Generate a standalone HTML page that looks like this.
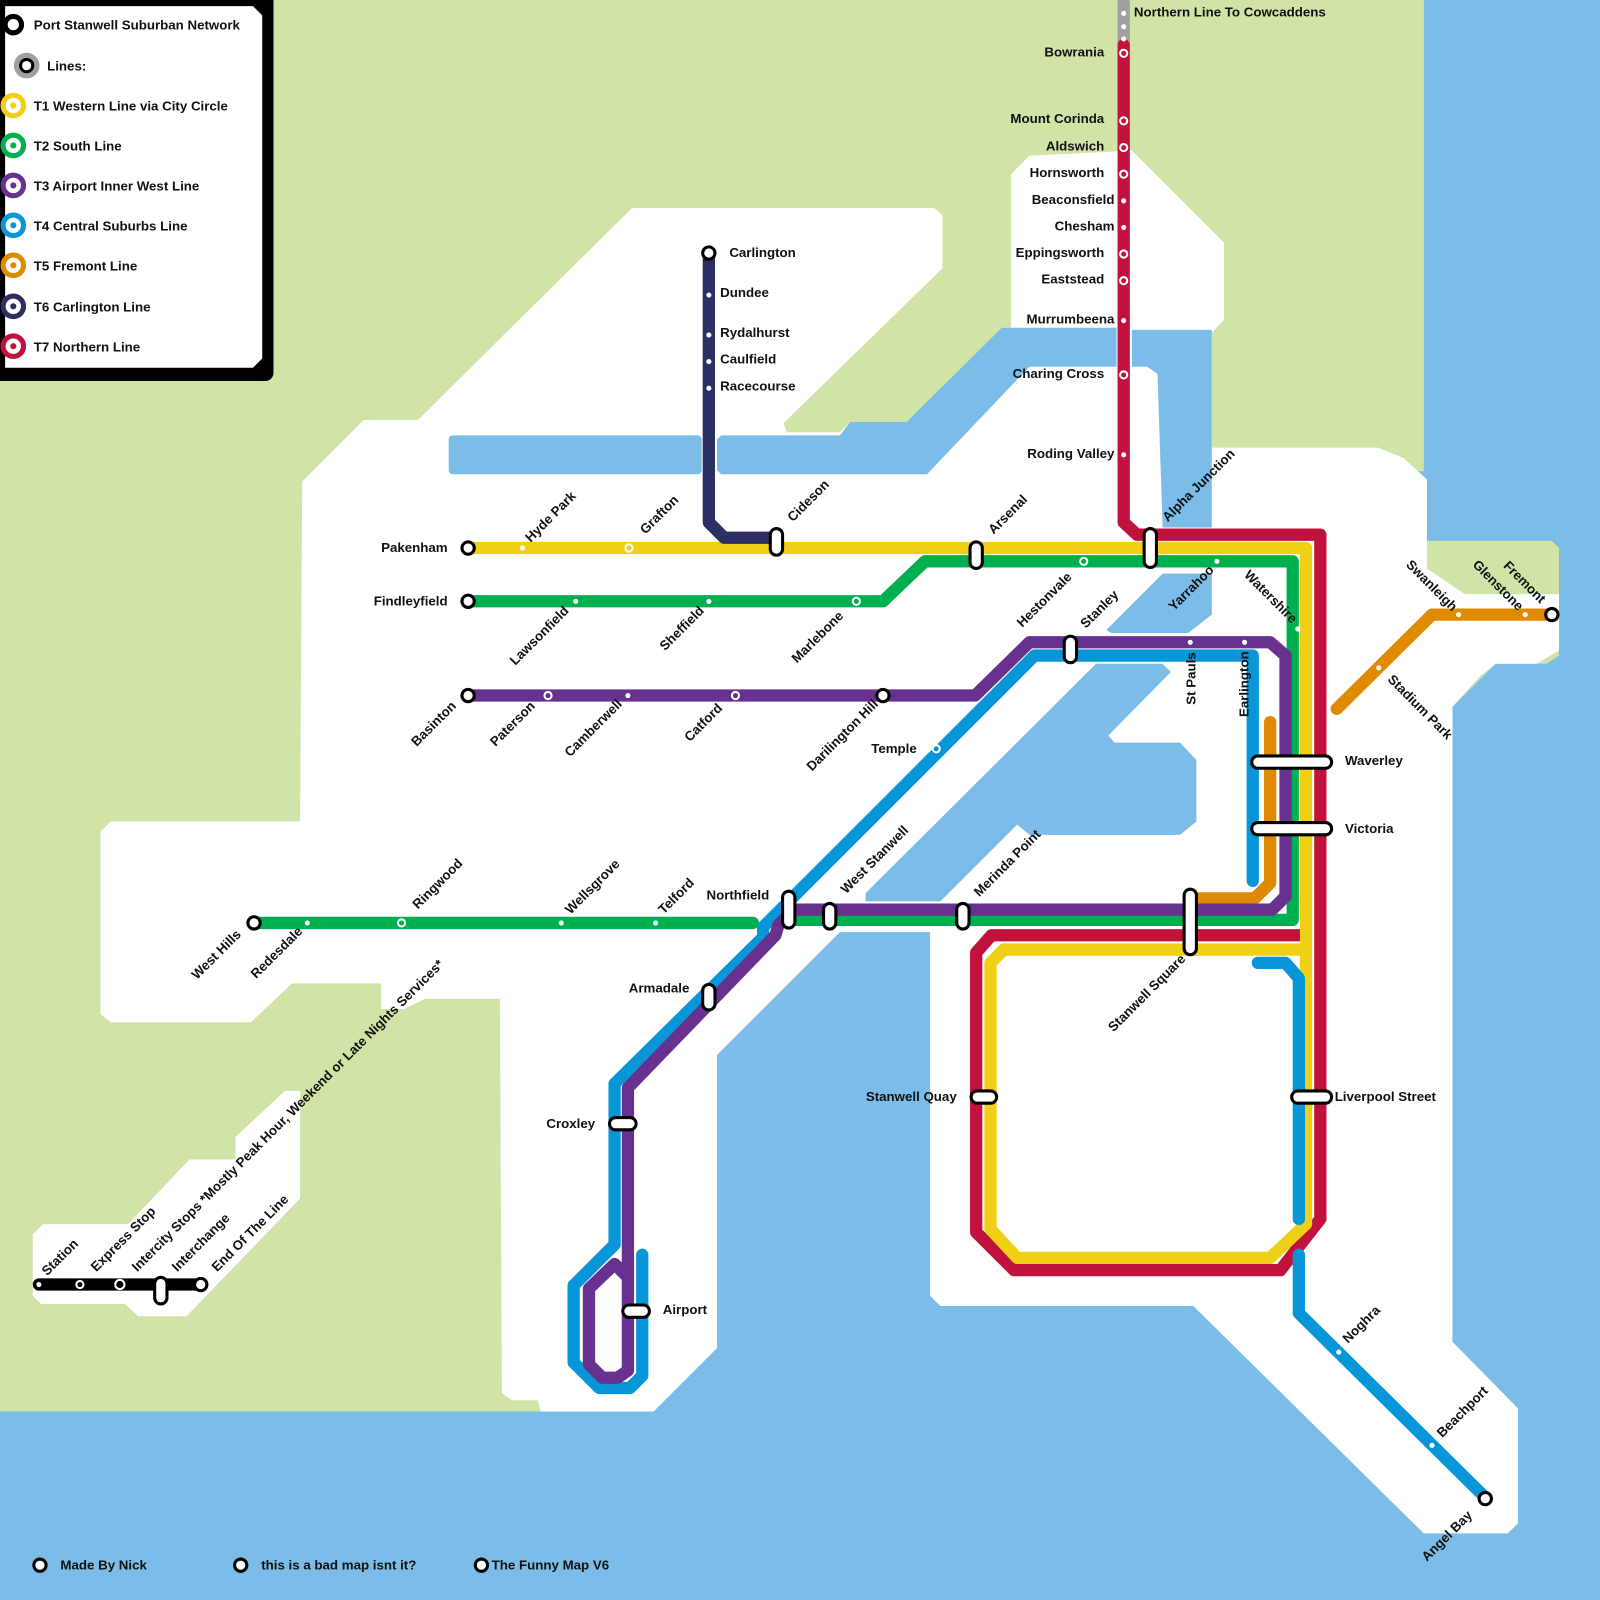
<!DOCTYPE html>
<html><head><meta charset="utf-8"><style>
html,body{margin:0;padding:0;background:#7bbde8}
svg{display:block}
text{font-family:"Liberation Sans",Arial,sans-serif;font-weight:bold;font-size:13px;fill:#111}
.ln{fill:none;stroke-width:12;stroke-linejoin:round;stroke-linecap:round}
.cap{fill:#fff;stroke:#000;stroke-width:3}
.term{fill:#fff;stroke:#000;stroke-width:3}
.dot{fill:#fff}
</style></head><body>
<svg width="1600" height="1600" viewBox="0 0 1562 1562" xmlns="http://www.w3.org/2000/svg">
<rect width="1562" height="1562" fill="#7bbde8"/>
<!-- land -->
<polygon points="0,0 1390,0 1390,460 1183,460 908,900 820,900 700,1030 700,1316 638,1378 0,1378" fill="#d0e4a8"/>
<polygon points="1390,528 1515,528 1522,535 1522,580 1390,580" fill="#d0e4a8"/>
<polygon points="1408,700 1408,680 1450,635 1510,630 1522,635 1522,640 1510,648 1460,648 1418,690 1418,720" fill="#d0e4a8"/>
<!-- white urban -->
<polygon fill="#fff" points="295,470 293,802 108,802 98,812 98,990 108,998 245,998 285,960 372,960 372,985 395,985 415,975 488,975 490,1360 500,1367 525,1367 528,1378 638,1378 700,1316 700,1030 820,910 908,910 908,1265 918,1275 1165,1275 1390,1497 1472,1497 1482,1487 1482,1375 1418,1310 1418,690 1445,660 1460,648 1500,648 1522,635 1522,580 1430,580 1393,555 1393,468 1370,447 1345,437 1183,437 1183,325 1195,312 1195,237 1105,147 1005,152 987,170 987,320 980,320 885,412 830,412 820,422 768,422 765,413 920,262 920,210 912,203 617,203 408,410 355,410"/>
<polygon fill="#fff" points="32,1205 42,1195 125,1195 185,1132 230,1132 230,1110 278,1065 293,1065 293,1170 182,1285 135,1285 122,1273 40,1273 32,1265"/>
<!-- water -->
<rect x="438" y="425" width="247" height="38" rx="4" fill="#7bbde8"/>
<polygon fill="#7bbde8" points="700,429 704,425 820,425 830,412 885,412 978,320 1090,320 1090,358 1005,358 905,463 704,463 700,459"/>
<polygon fill="#7bbde8" points="1105,322 1183,322 1183,515 1135,515 1130,365 1120,358 1105,358"/>
<polygon fill="#7bbde8" points="1080,615 1135,560 1183,560 1183,600 1160,618 1085,618"/>
<polygon fill="#7bbde8" points="1070,648 1135,648 1143,656 1082,718 1088,725 1152,725 1168,742 1168,802 1152,815 1005,815 993,805 918,880 845,880 845,872"/>
<!-- lines -->
<path class="ln" stroke="#a0a0a0" d="M1097,0 V44"/>
<path class="ln" stroke="#c0123c" d="M1097,44 V510 L1110,522 H1289 V1190 L1250,1240 H990 L953,1203 V930 L968,913 H1270"/>
<path class="ln" stroke="#f0cf17" d="M457,535 H1275 V1195 L1240,1228 H993 L967,1200 V940 L980,927 H1275"/>
<path class="ln" stroke="#00b050" d="M457,587 H862 L903,548 H1262 V898 H760"/>
<path class="ln" stroke="#00b050" d="M248,901 H735"/>
<path class="ln" stroke="#e08a00" d="M1240,705 V862 L1225,877 H1162"/>
<path class="ln" stroke="#e08a00" d="M1305,692 L1398,600 H1515"/>
<path class="ln" stroke="#0896d8" d="M1223,860 V640 H1010 L745,905 V915 L600,1058 V1215 L560,1255 V1330 L585,1355 H615 L627,1343 V1225"/>
<path class="ln" stroke="#0896d8" d="M1228,940 H1255 L1268,955 V1190"/>
<path class="ln" stroke="#0896d8" d="M1268,1225 V1282 L1450,1462"/>
<path class="ln" stroke="#68308f" d="M457,679 H952 L1005,627 H1240 L1255,640 V875 L1242,888 H775 L760,903 L757,913 L613,1062 V1338 L603,1345 H588 L575,1332 V1258 L600,1234 L613,1247"/>
<path class="ln" stroke="#2b2f63" d="M692,247 V510 L707,525 H758"/>
<path class="ln" stroke="#000" d="M38,1254 H196"/>
<path d="M148,1254 L157,1272 L166,1254Z" fill="#000"/>
<!-- small stations -->
<g class="dot">
<circle cx="1097" cy="13" r="2.5"/><circle cx="1097" cy="26" r="2.5"/><circle cx="1097" cy="38" r="2.5"/>
<circle cx="1097" cy="196" r="2.5"/><circle cx="1097" cy="222" r="2.5"/><circle cx="1097" cy="313" r="2.5"/><circle cx="1097" cy="444" r="2.5"/>
<circle cx="692" cy="288" r="2.5"/><circle cx="692" cy="327" r="2.5"/><circle cx="692" cy="353" r="2.5"/><circle cx="692" cy="379" r="2.5"/>
<circle cx="510" cy="535" r="2.5"/><circle cx="562" cy="587" r="2.5"/><circle cx="692" cy="587" r="2.5"/>
<circle cx="613" cy="679" r="2.5"/><circle cx="1188" cy="548" r="2.5"/><circle cx="1267" cy="614" r="2.5"/>
<circle cx="1162" cy="627" r="2.5"/><circle cx="1215" cy="627" r="2.5"/><circle cx="1346" cy="652" r="2.5"/>
<circle cx="1424" cy="600" r="2.5"/><circle cx="1489" cy="600" r="2.5"/><circle cx="300" cy="901" r="2.5"/>
<circle cx="548" cy="901" r="2.5"/><circle cx="640" cy="901" r="2.5"/><circle cx="1307" cy="1320" r="2.5"/><circle cx="1398" cy="1411" r="2.5"/>
<circle cx="38" cy="1254" r="2.5"/>
</g>
<g fill="none" stroke="#fff" stroke-width="2">
<circle cx="1097" cy="52" r="3.5"/><circle cx="1097" cy="118" r="3.5"/><circle cx="1097" cy="144" r="3.5"/><circle cx="1097" cy="170" r="3.5"/>
<circle cx="1097" cy="248" r="3.5"/><circle cx="1097" cy="274" r="3.5"/><circle cx="1097" cy="366" r="3.5"/>
<circle cx="614" cy="535" r="3.5"/><circle cx="1058" cy="548" r="3.5"/><circle cx="836" cy="587" r="3.5"/>
<circle cx="535" cy="679" r="3.5"/><circle cx="718" cy="679" r="3.5"/><circle cx="914" cy="731" r="3.5"/>
<circle cx="392" cy="901" r="3.5"/><circle cx="78" cy="1254" r="3.5"/><circle cx="117" cy="1254" r="4.5"/>
</g>
<g class="term">
<circle cx="457" cy="535" r="6"/><circle cx="457" cy="587" r="6"/><circle cx="457" cy="679" r="6"/>
<circle cx="692" cy="247" r="6"/><circle cx="248" cy="901" r="6"/><circle cx="1515" cy="600" r="6"/>
<circle cx="1450" cy="1463" r="6"/><circle cx="862" cy="679" r="6"/><circle cx="196" cy="1254" r="6"/>
</g>
<g class="cap">
<rect x="752" y="516" width="12" height="26" rx="6"/>
<rect x="947" y="529" width="12" height="26" rx="6"/>
<rect x="1117" y="516" width="12" height="38" rx="6"/>
<rect x="1039" y="621" width="12" height="26" rx="6"/>
<rect x="1222" y="738" width="78" height="12" rx="6"/>
<rect x="1222" y="803" width="78" height="12" rx="6"/>
<rect x="1156" y="868" width="12" height="64" rx="6"/>
<rect x="764" y="870" width="12" height="36" rx="6"/>
<rect x="804" y="882" width="12" height="25" rx="6"/>
<rect x="934" y="882" width="12" height="25" rx="6"/>
<rect x="686" y="961" width="12" height="25" rx="6"/>
<rect x="948" y="1065" width="25" height="12" rx="6"/>
<rect x="1261" y="1065" width="39" height="12" rx="6"/>
<rect x="595" y="1091" width="26" height="12" rx="6"/>
<rect x="608" y="1274" width="26" height="12" rx="6"/>
<rect x="151" y="1247" width="12" height="26" rx="6"/>
</g>
<text x="712" y="251">Carlington</text><text x="703" y="290">Dundee</text><text x="703" y="329">Rydalhurst</text>
<text x="703" y="355">Caulfield</text><text x="703" y="381">Racecourse</text>
<g text-anchor="end">
<text x="437" y="539">Pakenham</text><text x="437" y="591">Findleyfield</text>
<text x="895" y="735">Temple</text><text x="751" y="878">Northfield</text><text x="673" y="969">Armadale</text>
<text x="581" y="1101">Croxley</text><text x="934" y="1075">Stanwell Quay</text>
<text x="1078" y="55">Bowrania</text><text x="1078" y="120">Mount Corinda</text><text x="1078" y="147">Aldswich</text>
<text x="1078" y="173">Hornsworth</text><text x="1088" y="199">Beaconsfield</text><text x="1088" y="225">Chesham</text>
<text x="1078" y="251">Eppingsworth</text><text x="1078" y="277">Eaststead</text><text x="1088" y="316">Murrumbeena</text>
<text x="1078" y="369">Charing Cross</text><text x="1088" y="447">Roding Valley</text>
</g>
<text x="647" y="1283">Airport</text><text x="1303" y="1075">Liverpool Street</text>
<text x="1313" y="747">Waverley</text><text x="1313" y="813">Victoria</text>
<text x="1107" y="16">Northern Line To Cowcaddens</text>
<g>
<text transform="translate(518,530) rotate(-45)">Hyde Park</text>
<text transform="translate(630,522) rotate(-45)">Grafton</text>
<text transform="translate(774,510) rotate(-45)">Cideson</text>
<text transform="translate(970,522) rotate(-45)">Arsenal</text>
<text transform="translate(1140,510) rotate(-45)">Alpha Junction</text>
<text transform="translate(998,613) rotate(-45)">Hestonvale</text>
<text transform="translate(1060,614) rotate(-45)">Stanley</text>
<text transform="translate(1146,597) rotate(-45)">Yarrahoo</text>
<text transform="translate(408,888) rotate(-45)">Ringwood</text>
<text transform="translate(557,893) rotate(-45)">Wellsgrove</text>
<text transform="translate(648,893) rotate(-45)">Telford</text>
<text transform="translate(826,873) rotate(-45)">West Stanwell</text>
<text transform="translate(956,876) rotate(-45)">Merinda Point</text>
<text transform="translate(1316,1312) rotate(-45)">Noghra</text>
<text transform="translate(1408,1404) rotate(-45)">Beachport</text>
<text transform="translate(46,1246) rotate(-45)">Station</text>
<text transform="translate(94,1242) rotate(-45)">Express Stop</text>
<text transform="translate(134,1242) rotate(-45)">Intercity Stops *Mostly Peak Hour, Weekend or Late Nights Services*</text>
<text transform="translate(173,1242) rotate(-45)">Interchange</text>
<text transform="translate(212,1242) rotate(-45)">End Of The Line</text>
</g>
<g text-anchor="end">
<text transform="translate(556,597) rotate(-45)">Lawsonfield</text>
<text transform="translate(688,597) rotate(-45)">Sheffield</text>
<text transform="translate(824,602) rotate(-45)">Marlebone</text>
<text transform="translate(446,690) rotate(-45)">Basinton</text>
<text transform="translate(523,690) rotate(-45)">Paterson</text>
<text transform="translate(608,688) rotate(-45)">Camberwell</text>
<text transform="translate(706,692) rotate(-45)">Catford</text>
<text transform="translate(858,688) rotate(-45)">Darilington Hill</text>
<text transform="translate(236,913) rotate(-45)">West Hills</text>
<text transform="translate(296,910) rotate(-45)">Redesdale</text>
<text transform="translate(1158,937) rotate(-45)">Stanwell Square</text>
<text transform="translate(1438,1480) rotate(-45)">Angel Bay</text>
</g>
<g>
<text transform="translate(1214,562) rotate(45)">Watershire</text>
<text transform="translate(1372,552) rotate(45)">Swanleigh</text>
<text transform="translate(1437,552) rotate(45)">Glenstone</text>
<text transform="translate(1467,553) rotate(45)">Fremont</text>
<text transform="translate(1354,664) rotate(45)">Stadium Park</text>
<text transform="translate(1167,688) rotate(-90)">St Pauls</text>
<text transform="translate(1219,700) rotate(-90)">Earlington</text>
</g>
<rect x="-10" y="-10" width="277" height="382" rx="8" fill="#000"/>
<polygon points="5,6 247,6 256,15 256,350 247,359 5,359" fill="#fff"/>
<g stroke-width="5" fill="#fff">
<circle cx="13" cy="24" r="8" stroke="#000"/>
<circle cx="26" cy="64" r="10" stroke="#a0a0a0" fill="none" stroke-width="5"/>
<circle cx="26" cy="64" r="6" stroke="#000" stroke-width="3"/>
<circle cx="13" cy="103" r="10" stroke="#f0cf17"/>
<circle cx="13" cy="142" r="10" stroke="#00b050"/>
<circle cx="13" cy="181" r="10" stroke="#68308f"/>
<circle cx="13" cy="220" r="10" stroke="#0896d8"/>
<circle cx="13" cy="259" r="10" stroke="#e08a00"/>
<circle cx="13" cy="299" r="10" stroke="#2b2f63"/>
<circle cx="13" cy="338" r="10" stroke="#c0123c"/>
</g>
<g>
<circle cx="13" cy="103" r="3" fill="#f0cf17"/><circle cx="13" cy="142" r="3" fill="#00b050"/>
<circle cx="13" cy="181" r="3" fill="#68308f"/><circle cx="13" cy="220" r="3" fill="#0896d8"/>
<circle cx="13" cy="259" r="3" fill="#e08a00"/><circle cx="13" cy="299" r="3" fill="#2b2f63"/>
<circle cx="13" cy="338" r="3" fill="#c0123c"/>
</g>
<text x="33" y="29">Port Stanwell Suburban Network</text>
<text x="46" y="69">Lines:</text>
<text x="33" y="108">T1 Western Line via City Circle</text>
<text x="33" y="147">T2 South Line</text>
<text x="33" y="186">T3 Airport Inner West Line</text>
<text x="33" y="225">T4 Central Suburbs Line</text>
<text x="33" y="264">T5 Fremont Line</text>
<text x="33" y="304">T6 Carlington Line</text>
<text x="33" y="343">T7 Northern Line</text>
<g class="term"><circle cx="39" cy="1528" r="6"/><circle cx="235" cy="1528" r="6"/><circle cx="470" cy="1528" r="6"/></g>
<text x="59" y="1532">Made By Nick</text>
<text x="255" y="1532">this is a bad map isnt it?</text>
<text x="480" y="1532">The Funny Map V6</text>
</svg>
</body></html>
